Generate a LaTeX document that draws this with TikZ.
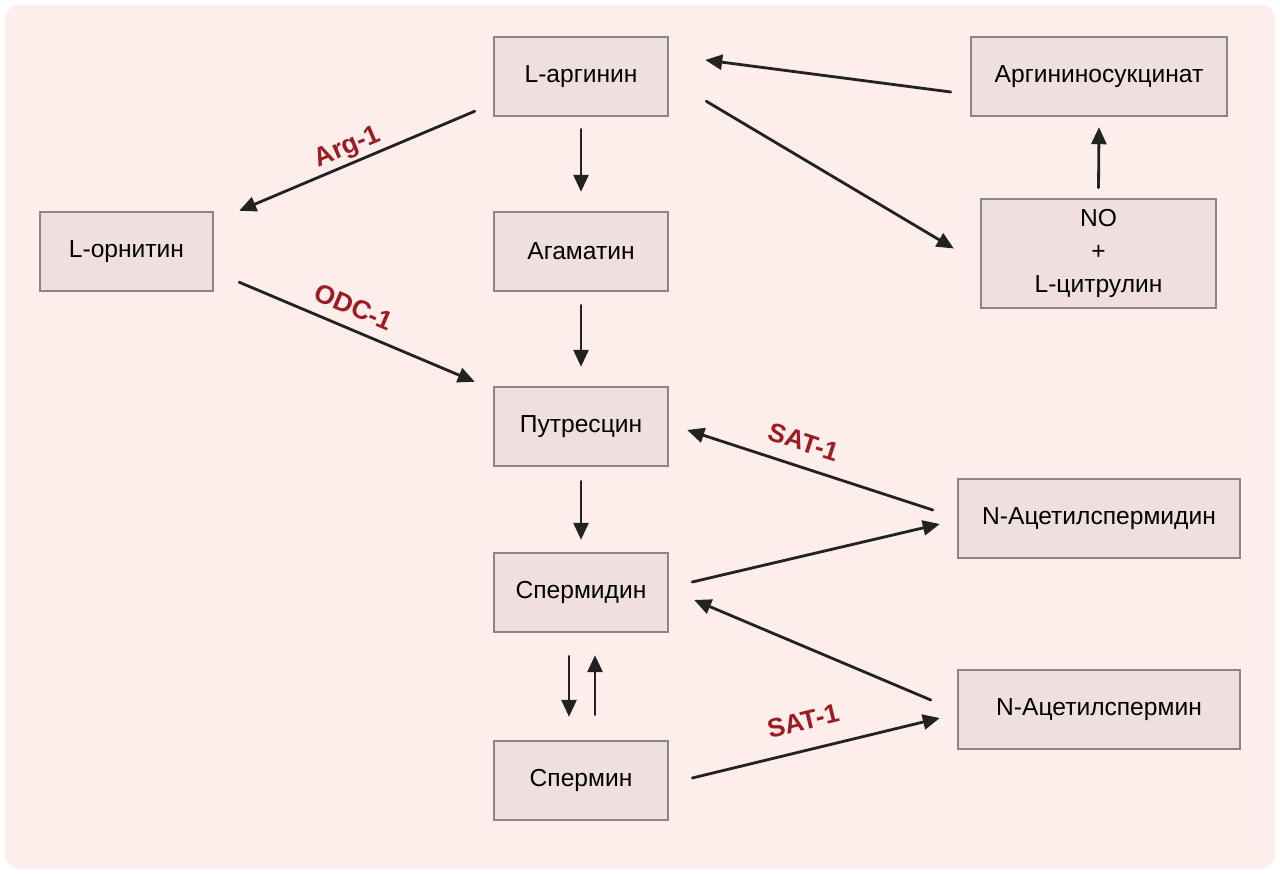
\documentclass[tikz,border=0pt]{standalone}
\usepackage{fontspec}
\setmainfont{Liberation Sans}
\usepackage{xcolor}
\usetikzlibrary{arrows.meta}
\definecolor{bgpink}{HTML}{FDEDEB}
\definecolor{boxfill}{HTML}{EFDFDF}
\definecolor{boxline}{HTML}{8A8589}
\definecolor{enzred}{HTML}{9B1C23}
\definecolor{arrline}{HTML}{222222}

\begin{document}
\begin{tikzpicture}[x=0.02cm,y=-0.02cm,line cap=round,
  box/.style={draw=boxline,fill=boxfill,line width=1.4pt,minimum height=1.58cm,
    inner sep=2pt,align=center,font=\fontsize{14}{19}\selectfont},
  arr/.style={draw=arrline,line width=1.6pt,-{Triangle[length=0.34cm,width=0.3cm]}},
  enz/.style={text=enzred,font=\bfseries\fontsize{15}{17}\selectfont,inner sep=0pt}]
\useasboundingbox (0,0) rectangle (1280,874);
% background
\fill[white] (0,0) rectangle (1280,874);
\fill[bgpink,rounded corners=0.3cm] (5,5) rectangle (1275,869);
% middle column
\node[box,minimum width=3.48cm] (arg) at (581,76.5) {L-аргинин};
\node[box,minimum width=3.48cm] (agm) at (581,251.5) {Агаматин};
\node[box,minimum width=3.48cm] (put) at (581,426.5) {Путресцин};
\node[box,minimum width=3.48cm] (spd) at (581,592.5) {Спермидин};
\node[box,minimum width=3.48cm] (spm) at (581,780.5) {Спермин};
% left
\node[box,minimum width=3.46cm] (orn) at (126.5,251.5) {L-орнитин};
% right
\node[box,minimum width=5.12cm] (asc) at (1099,76.5) {Аргининосукцинат};
\node[box,minimum width=4.70cm,minimum height=2.18cm] (nocit) at (1098.5,253.5) {NO\\+\\L-цитрулин};
\node[box,minimum width=5.64cm] (acspd) at (1099,518.5) {N-Ацетилспермидин};
\node[box,minimum width=5.64cm] (acspm) at (1099,709.5) {N-Ацетилспермин};
% vertical arrows
\draw[arr] ([shift={(0,12)}]arg.south) -- ([shift={(0,-19)}]agm.north);
\draw[arr] ([shift={(0,13)}]agm.south) -- ([shift={(0,-19)}]put.north);
\draw[arr] ([shift={(0,14)}]put.south) -- ([shift={(0,-12)}]spd.north);
\draw[arr] ([shift={(-12,23)}]spd.south) -- ([shift={(-12,-23)}]spm.north);
\draw[arr] ([shift={(14,-25)}]spm.north) -- ([shift={(14,22)}]spd.south);
\draw[arr] ([shift={(0,-10)}]nocit.north) -- ([shift={(0,10)}]asc.south);
% slanted arrows
\draw[arr] ([shift={(-18,-6)}]arg.south west) -- ([shift={(25,0)}]orn.north east);
\draw[arr] ([shift={(25,-10)}]orn.south east) -- ([shift={(-18,-4)}]put.north west);
\draw[arr] ([shift={(37,-16)}]arg.south east) -- ([shift={(-26,-5)}]nocit.west);
\draw[arr] ([shift={(-19,15.5)}]asc.west) -- ([shift={(36,-16.5)}]arg.east);
\draw[arr] ([shift={(-24,-8.5)}]acspd.west) -- ([shift={(18,3.5)}]put.east);
\draw[arr] ([shift={(23,-10.5)}]spd.east) -- ([shift={(-17,5.5)}]acspd.west);
\draw[arr] ([shift={(-26,-9.5)}]acspm.west) -- ([shift={(25,7.5)}]spd.east);
\draw[arr] ([shift={(23,-2.5)}]spm.east) -- ([shift={(-17,8.5)}]acspm.west);
% enzyme labels
\node[enz,rotate=23] (lblarg) at (348,148) {Arg-1};
\node[enz,rotate=-23] (lblodc) at (354,307) {ODC-1};
\node[enz,rotate=-18] (lblsat1) at (804,442) {SAT-1};
\node[enz,rotate=13.5] (lblsat2) at (803,721) {SAT-1};
\end{tikzpicture}
\end{document}
